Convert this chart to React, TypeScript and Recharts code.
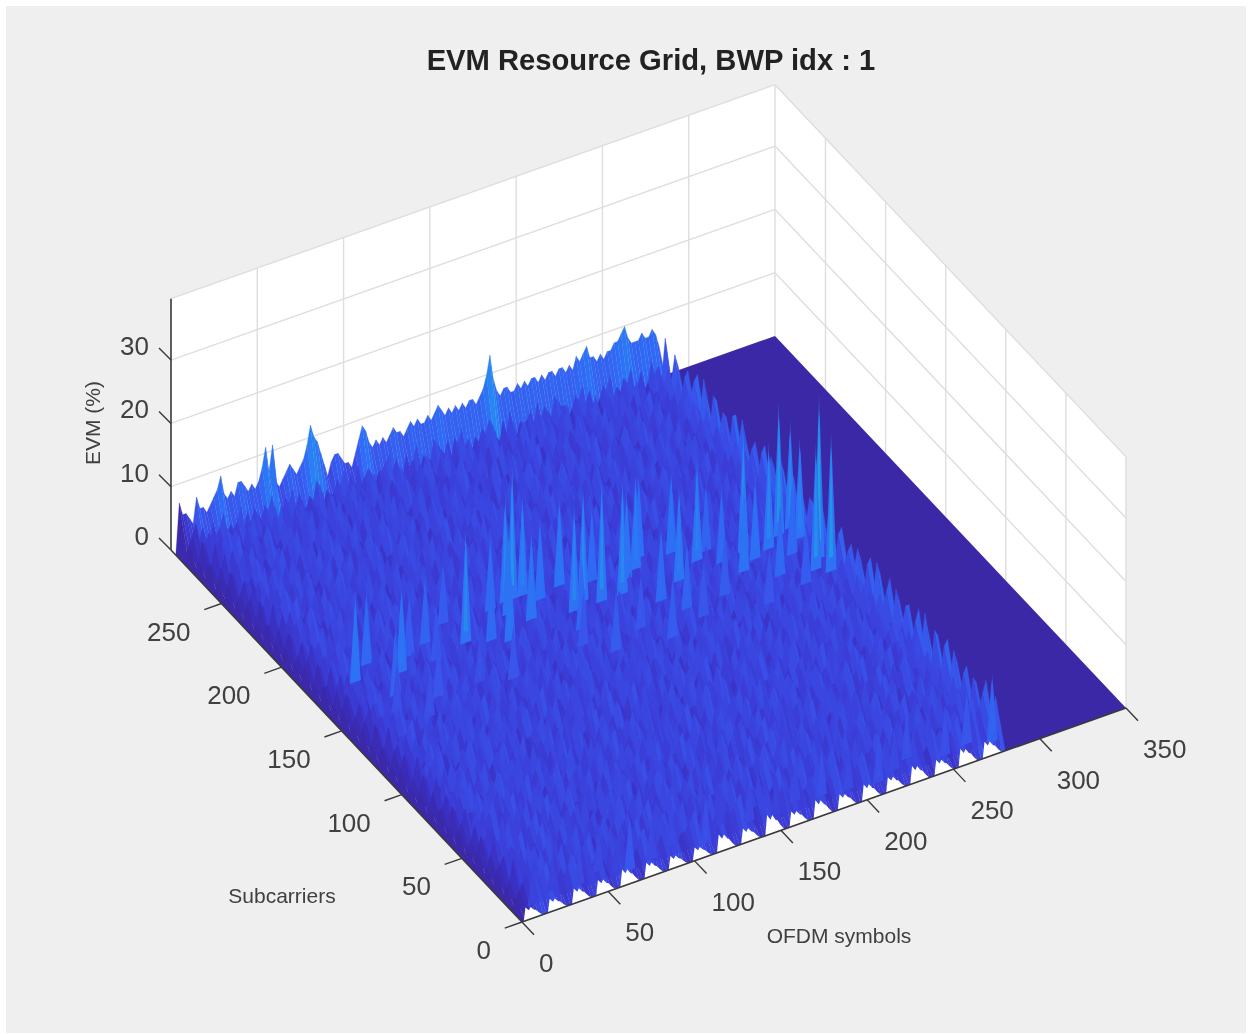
import React from "react";
import { ScatterChart, Scatter, XAxis, YAxis } from "recharts";

const titleText = "EVM Resource Grid, BWP idx : 1";
const symbolTicks = [0, 50, 100, 150, 200, 250, 300, 350];
const subcarrierTicks = [0, 50, 100, 150, 200, 250];
const evmTicks = [0, 10, 20, 30];
const symbolMax = 350;
const subcarrierMax = 292;
const evmMax = 39.7;
const lastSymbol = 280;
const symbolStep = 2;
const subcarrierStep = 8;

// EVM (%) per subcarrier row (front to back), base-36 digit per point, 7 points per slot.
// NOTE: the reference is far too dense to read point by point. Only the back row (its silhouette)
// was measured; the other rows are hand-typed approximations of the texture's level and
// roughness, on a coarser grid (every 2 symbols, every 8 subcarriers), not measured values.
const evmRows = [
"2345364 4563524 3465243 5346325 4635242 3564352 4536423 3456352 5346243 4563523 3645342 5436253 3546423 4653524 3465342 5364253 4536342 3654523 4563426 5346357",
"2364525 3546432 5463342 3456423 5364352 4356243 3645523 5463432 3546354 4365243 5436352 3564423 4653342 3546524 5436343 3465352 5364243 4536423 3654532 4563468",
"3456342 5364523 4635243 5463352 3546424 6345232 4563543 3654242 5436353 3546452 4365324 5643243 3564534 4635342 3546253 5364342 4653524 3546432 5364343 4635276",
"2465353 4356243 3564532 4635343 6345242 3546523 5463342 4365453 3546324 5634252 4365423 3546543 5463234 3654352 4536423 5346534 3645243 4563352 3546424 5364367",
"3546243 5463524 3456342 5364353 4536232 3645543 4563342 5346524 3654243 4536352 5463423 3564342 4653535 3546243 5364352 4635423 3546532 5463243 4365354 3546486",
"2356442 4635353 5346224 3564532 4653343 5436252 3645423 4563534 5346342 3654253 4536524 5346243 3564452 6435323 4563542 3645353 5436242 3564523 4653352 5364378",
"3465352 5346243 4563524 3645342 5463453 3546232 4635543 5346324 4563253 3564542 5436324 4653453 3546242 5364353 4536524 3645342 5463253 4356432 5346543 3645287",
"2546323 3654542 5436243 4563352 3546524 6345342 5463253 3645432 5364543 4536224 3654352 5463542 4365243 3546534 5463342 4365253 3546524 5634342 4563253 3546496",
"3354524 5463232 3546543 5364342 4635253 3546432 5364543 4563224 3654352 5436443 3564232 4653545 3546342 5463253 3645432 5364543 4536342 3654253 5463424 4635368",
"2463543 3546342 5463224 3645453 5364342 4536523 3654242 5463534 3546243 6435352 5364423 3546534 4653242 5364353 3546424 6345232 4563543 5346342 3654523 4563477",
"3546232 5364453 4635342 3546524 5463243 4365352 5436423 3564542 4653234 5364352 3546423 5463534 4365342 3546253 5643424 3546532 5364343 4635252 3546423 5463386",
"2364453 5463242 3546534 4653342 5364223 3546452 4635343 6345524 3564232 4563453 5346342 3654523 4563242 5346354 3645423 5463532 3546243 5364352 4635524 3546468",
"3545342 3654523 5463243 3546354 5364423 4653532 3546243 5364352 4536524 3645242 5463353 3546424 5364532 4635243 3546352 5463424 3654532 5346243 4563352 3645497",
"2456243 5346352 3654424 5463532 3546343 6345252 4563423 3654534 5463242 3546353 5364524 4635242 3546353 5463424 3564532 4653243 5364352 3546524 5463243 4365378",
"3364532 4563243 5346354 3645423 4563532 5346243 3645352 5463424 3546533 5364242 4536352 3654523 5463242 3546354 5364423 4635532 3546243 5463352 3654424 5346586",
"2546352 3654424 5463232 3546543 5364324 4635253 3546442 5463323 4365532 3546243 5463354 4536423 3654532 4563243 5346352 3645424 5463532 3546243 5364352 4635467",
"3463243 5346523 4635342 3546253 5463424 3546532 4365243 5364352 3546424 6345532 4563243 3654352 5463423 3546534 5364242 4653353 3546424 5463532 4365243 3546378",
"2354524 4635342 5364253 3546432 4653543 5346224 3654352 5463443 3546232 5364543 4635342 3546253 4653424 5364532 3546243 5463352 4365423 3546534 5463243 4365496",
"3546342 3654253 5463424 4536532 3654243 5463352 4536423 3546532 5463243 3645352 5364423 4536532 3654243 5463352 3546424 6345532 5463243 3546354 5364423 4635568",
"2463523 5346242 3654353 5463424 3546532 5364243 4635352 5463423 3546534 5364242 4536353 3645424 5463532 3546243 4653352 5436423 3564532 4653243 5346352 3654487",
"3364242 4563353 5346424 3645532 4563243 5346352 3654424 4563532 5346243 3654352 5463423 3546534 4653242 5364353 3546424 5463532 4365243 3546354 5463423 3546576",
"2546354 3654423 5463532 3546243 5364352 4635424 3546532 5463243 3645354 5463423 3546532 6345243 4563352 5346424 3645532 5463243 3546352 5364424 4635532 5346468",
"3463532 5346243 4635352 3546424 5463532 4365243 5463352 3546424 6345532 4563243 5346354 3654423 5463532 3546243 5364352 4536424 3654532 5463243 3546354 5364397",
"2354243 4635354 5364423 3546532 4653243 5346352 3654424 5463532 3546243 5364353 3645424 5463532 4365243 3546354 5463423 3546532 5364243 4635352 5463424 3546586",
"3546353 3654424 5463532 4536243 3654352 5463424 3546532 5364243 4635352 3546424 5364532 4635243 3546354 5463423 3654532 4563243 5346352 3654424 5463532 4365378",
"2463424 5346532 3654243 5463352 3546424 5364532 4635243 5463354 3546423 6345532 4563243 5346352 3654424 4563532 5346243 3654352 5463424 3546532 5463243 3546467",
"3364532 4563243 5346354 3645423 5463532 3546243 5364352 4536424 3654532 5463243 3546354 5364423 4635532 3546243 5463352 4365424 3546532 6345243 4563352 5346596",
"2546243 3654352 5463424 3546532 5364243 4635352 3546424 5463532 4365243 3546354 5463423 3654532 4563243 5346352 3654424 5463532 3546243 5364352 4635424 3546388",
"3463352 5346424 4635532 3546243 5463354 4365423 3546532 6345243 4563352 5346424 3654532 5463243 3546354 5364423 4536532 3654243 5463352 3546424 5364532 4635476",
"2354424 4635532 5364243 3546352 4653424 5346532 3654243 5463352 3546424 5364533 3645242 5463354 4365423 3546532 5463243 3546352 5364424 4635532 5463243 3546387",
"3546532 3654243 5463352 4536424 3654532 5463243 3546354 5364423 4635532 3546243 5364352 4635424 3546532 5463243 3654354 4563423 5346532 3654243 5463352 4365496",
"2463243 5346352 3654424 5463532 3546243 5364352 4635424 5463532 3546243 6345354 4563423 5346532 3654243 4563352 5346424 3654532 5463243 3546352 5463424 3546578",
"3364352 4563424 5346532 3645243 5463354 3546423 5364532 4536243 3654352 5463424 3546533 5364242 4635354 3546423 5463532 4365243 3546352 6345424 4563532 5346367",
"2546424 3654532 5463243 3546352 5364424 4635532 3546243 5463352 4365424 3546532 5463243 3654352 4563424 5346532 3654243 5463354 3546423 5364532 4635243 3546486",
"3463532 5346243 4635354 3546423 5463532 4365243 3546352 6345424 4563532 5346243 3654352 5463424 3546532 5364243 4536354 3654423 5463532 3546243 5463352 3645394",
"8665486 65678a7 6768876 7679c8c 6567876 78adba8 6467765 5468a97 6767678 7767878 7787898 7878787 88789be a878877 8787887 8788788 787989a 8878788 99ab988 8988986",
];

// Tall spikes: [OFDM symbol, subcarrier, EVM %]. The first 31 and the 1st-8th of the front group
// were read from streak top and foot in the picture; the others fill the same bands by estimate.
const spikeSymbols = [278,272,278,270,278,260,278,248,224,232,234,208,194,178,166,158,150,128,128,124,134,26,38,38,50,70,88,90,102,120,186,216,240,254,146,110,60,200, 140,152,172,182,192,204,222,238,250,262,268,80,96,56,44,32,72,114,140,154,170,200, 12,60,68,112,126,234,278,212,26,40,54,82,96,140,154,168,182,196,224,252,266];
const spikeSubcarriers = [152,146,142,174,176,168,168,172,176,180,170,168,184,172,172,176,172,176,192,192,192,176,184,160,172,172,192,176,172,184,180,186,160,150,160,168,180,150, 150,140,148,136,160,142,150,136,165,140,160,150,145,150,140,150,184,190,186,190,186,190, 8,8,8,8,16,16,8,8,12,10,14,10,14,12,10,14,12,10,12,10,12];
const spikeEvm = [26,20,22,21,17,17,16,19,16,11,12,15,15,18,19,18,17,14,21,17,16,14,12,11,14,9,10,18,12,14,14,13,14,12,12,14,10,11, 9,10,9,10,12,9,10,9,13,10,12,8,9,9,8,8,11,12,13,14,12,13, 6,6,9,8,6,8,11,8,6,7,7,7,7,7,6,7,8,7,7,8,9];

// White gap heights at the front edge, one per 14-symbol slot (EVM-axis units).
const slotGapHeights = [2.1,2.1,2.4,2.4,2.7,2.4,2.1,2.1,2.8,2.4,3.2,2.4,2.8,2.4,2.6,2.4,2.8,2.4,2.8,2.6];

const SX = 604 / symbolMax, SY = -214 / symbolMax;
const BX = -351 / subcarrierMax, BY = -372 / subcarrierMax;
const ZY = -6.33;
const project = (s: number, b: number, z: number): [number, number] => [522 + SX * s + BX * b, 922 + SY * s + BY * b + ZY * z];

const colorStops: [number, number[]][] = [
  [0, [59, 40, 166]], [2, [58, 46, 190]], [4, [59, 64, 218]], [6, [58, 82, 234]], [9, [46, 108, 245]],
  [13, [40, 136, 240]], [18, [30, 160, 224]], [24, [32, 192, 176]], [30, [128, 192, 112]], [39, [224, 192, 64]],
];
const colorOf = (z: number) => {
  for (let i = 1; i < colorStops.length; i++) {
    const [z1, c1] = colorStops[i];
    const [z0, c0] = colorStops[i - 1];
    if (z <= z1) {
      const t = (z - z0) / (z1 - z0);
      return `rgb(${c0.map((v, k) => Math.round(v + (c1[k] - v) * t)).join(",")})`;
    }
  }
  return "rgb(224,192,64)";
};

type Face = { x: number; y: number; pts: number[][]; fill?: string; stroke?: string; sw?: number };
const face = (pts3: number[][], fill?: string, stroke?: string, sw?: number): Face => {
  const p = pts3.map(([s, b, z]) => project(s, b, z));
  const x = p.reduce((a, q) => a + q[0], 0) / p.length;
  const y = p.reduce((a, q) => a + q[1], 0) / p.length;
  return { x, y, pts: p.map((q) => [q[0] - x, q[1] - y]), fill, stroke, sw };
};

// Box walls and plane
const WHITE = "#ffffff";
const wallFaces: Face[] = [
  face([[0, subcarrierMax, 0], [symbolMax, subcarrierMax, 0], [symbolMax, subcarrierMax, evmMax], [0, subcarrierMax, evmMax]], WHITE),
  face([[symbolMax, subcarrierMax, 0], [symbolMax, 0, 0], [symbolMax, 0, evmMax], [symbolMax, subcarrierMax, evmMax]], WHITE),
  face([[0, 0, 0], [symbolMax, 0, 0], [symbolMax, subcarrierMax, 0], [0, subcarrierMax, 0]], WHITE),
];
const GRID = "#dedede";
const gridLines: Face[] = [];
symbolTicks.slice(1, -1).forEach((s) => gridLines.push(face([[s, subcarrierMax, 0], [s, subcarrierMax, evmMax]], undefined, GRID, 1.4)));
subcarrierTicks.slice(1).forEach((b) => gridLines.push(face([[symbolMax, b, 0], [symbolMax, b, evmMax]], undefined, GRID, 1.4)));
evmTicks.slice(1).forEach((z) => {
  gridLines.push(face([[0, subcarrierMax, z], [symbolMax, subcarrierMax, z]], undefined, GRID, 1.4));
  gridLines.push(face([[symbolMax, subcarrierMax, z], [symbolMax, 0, z]], undefined, GRID, 1.4));
});
gridLines.push(face([[symbolMax, subcarrierMax, 0], [symbolMax, subcarrierMax, evmMax]], undefined, GRID, 1.4));
gridLines.push(face([[symbolMax, 0, 0], [symbolMax, 0, evmMax]], undefined, GRID, 1.4));
gridLines.push(face([[0, subcarrierMax, evmMax], [symbolMax, subcarrierMax, evmMax]], undefined, GRID, 1.4));
gridLines.push(face([[symbolMax, subcarrierMax, evmMax], [symbolMax, 0, evmMax]], undefined, GRID, 1.4));

const planeFaces: Face[] = [
  face([[lastSymbol, 0, 0], [symbolMax, 0, 0], [symbolMax, subcarrierMax, 0], [lastSymbol, subcarrierMax, 0]], "rgb(59,40,166)"),
];

// Surface: one jagged sheet per subcarrier row, painted back to front, with needles for the spikes.
const grid: number[][] = [
  new Array(141).fill(0),
  ...evmRows.map((r) => [0, ...r.replace(/ /g, "").split("").map((c) => parseInt(c, 36))]),
];
const surfaceFaces: Face[] = [];
for (let r = grid.length - 1; r >= 1; r--) {
  const b1 = r * subcarrierStep, b0 = (r - 1) * subcarrierStep;
  for (let c = 139; c >= 0; c--) {
    const a = grid[r][c], d = grid[r][c + 1];
    const edgeShade = Math.min(1, (c + 1) / 6);
    const col = colorOf((0.5 * Math.max(a, d) + 0.5 * Math.min(a, d) + 0.2) * edgeShade);
    const s0 = c * symbolStep, s1 = (c + 1) * symbolStep;
    surfaceFaces.push(face([[s0, b1, a], [s1, b1, d], [s1, b0, 0], [s0, b0, 0]], col, col, 0.3));
  }
  spikeSymbols.forEach((s, i) => {
    // needles are painted two rows late so the visible foot stays where it was read
    if (Math.max(1, Math.round(spikeSubcarriers[i] / subcarrierStep) - 2) !== r) return;
    const b = spikeSubcarriers[i], z = spikeEvm[i];
    surfaceFaces.push(face([[s - 3.2, b, 0], [s + 3.2, b, 0], [s + 0.6, b, z * 0.8], [s, b, z * 0.9], [s - 0.6, b, z * 0.8]], colorOf(Math.min(z * 0.7, 10))));
    surfaceFaces.push(face([[s - 1.2, b, z * 0.1], [s + 1.2, b, z * 0.1], [s, b, z]], colorOf(Math.min(z * 0.72, 19))));
  });
}

// Front white gaps
const gapProfile = [[0, 0], [1, 1], [3, 0.7], [4, 0.9], [6, 0.6], [7, 0.55], [9, 0.25], [11, 0]];
const gapFaces: Face[] = slotGapHeights.map((h, k) =>
  face(gapProfile.map(([ds, f]) => [14 * k + 1 + ds, 0, h * f]), WHITE)
);

// Axes
const AX = "#3a3a3a";
const axisLines: Face[] = [
  face([[0, 0, 0], [symbolMax, 0, 0]], undefined, AX, 1.6),
  face([[0, 0, 0], [0, subcarrierMax, 0]], undefined, AX, 1.6),
  face([[0, subcarrierMax, 0], [0, subcarrierMax, evmMax]], undefined, AX, 1.6),
];
symbolTicks.forEach((s) => axisLines.push(face([[s, 0, 0], [s, -10, 0]], undefined, AX, 1.4)));
subcarrierTicks.forEach((b) => axisLines.push(face([[0, b, 0], [-10, b, 0]], undefined, AX, 1.4)));
evmTicks.forEach((z) => {
  const [x, y] = project(0, subcarrierMax, z);
  axisLines.push({ x, y, pts: [[0, 0], [-12, -12]], stroke: AX, sw: 1.4 });
});

type Lab = { x: number; y: number; text: string; anchor: string; size: number; weight?: string; color: string; rotate?: number };
const TICK = "#404040";
const labels: Lab[] = [
  ...symbolTicks.map((s) => {
    const [x, y] = project(s, 0, 0);
    return { x: x + 17, y: y + 41, text: String(s), anchor: "start", size: 26, color: TICK };
  }),
  ...subcarrierTicks.map((b) => {
    const [x, y] = project(0, b, 0);
    return { x: x - 31, y: y + 28, text: String(b), anchor: "end", size: 26, color: TICK };
  }),
  ...evmTicks.map((z) => {
    const [x, y] = project(0, subcarrierMax, z);
    return { x: x - 22, y: y - 14, text: String(z), anchor: "end", size: 26, color: TICK };
  }),
  { x: 651, y: 60, text: titleText, anchor: "middle", size: 29.2, weight: "bold", color: "#222222" },
  { x: 282, y: 895, text: "Subcarriers", anchor: "middle", size: 21, color: TICK },
  { x: 839, y: 935, text: "OFDM symbols", anchor: "middle", size: 21, color: TICK },
  { x: 92, y: 423, text: "EVM (%)", anchor: "middle", size: 21, color: TICK, rotate: -90 },
];

const FaceShape = (p: any) => {
  const d: Face = p.payload;
  const pts = d.pts.map((q) => `${p.cx + q[0]},${p.cy + q[1]}`).join(" ");
  return d.fill ? (
    <polygon points={pts} fill={d.fill} stroke={d.stroke ?? "none"} strokeWidth={d.sw ?? 0} />
  ) : (
    <polyline points={pts} fill="none" stroke={d.stroke} strokeWidth={d.sw} />
  );
};
const LabelShape = (p: any) => {
  const d: Lab = p.payload;
  return (
    <text
      x={p.cx}
      y={p.cy}
      textAnchor={d.anchor as any}
      dominantBaseline="central"
      fontSize={d.size}
      fontWeight={d.weight ?? "normal"}
      fill={d.color}
      fontFamily="'Liberation Sans', Arial, sans-serif"
      transform={d.rotate ? `rotate(${d.rotate} ${p.cx} ${p.cy})` : undefined}
    >
      {d.text}
    </text>
  );
};

const layers: Face[][] = [wallFaces, gridLines, planeFaces, surfaceFaces, gapFaces, axisLines];

export default function App() {
  return (
    <div style={{ position: "absolute", left: 0, top: 0, width: 1248, height: 1034, background: "#ffffff", overflow: "hidden" }}>
      <div style={{ position: "absolute", left: 6, top: 6, width: 1240, height: 1027, background: "#efefef" }} />
      <div style={{ position: "absolute", left: 0, top: 0, filter: "blur(0.7px)" }}>
        <ScatterChart width={1248} height={1034} margin={{ top: 0, right: 0, bottom: 0, left: 0 }}>
          <XAxis type="number" dataKey="x" domain={[0, 1248]} hide />
          <YAxis type="number" dataKey="y" domain={[0, 1034]} reversed hide />
          {layers.map((l, i) => (
            <Scatter key={i} data={l} shape={FaceShape} isAnimationActive={false} />
          ))}
          <Scatter data={labels} shape={LabelShape} isAnimationActive={false} />
        </ScatterChart>
      </div>
    </div>
  );
}
